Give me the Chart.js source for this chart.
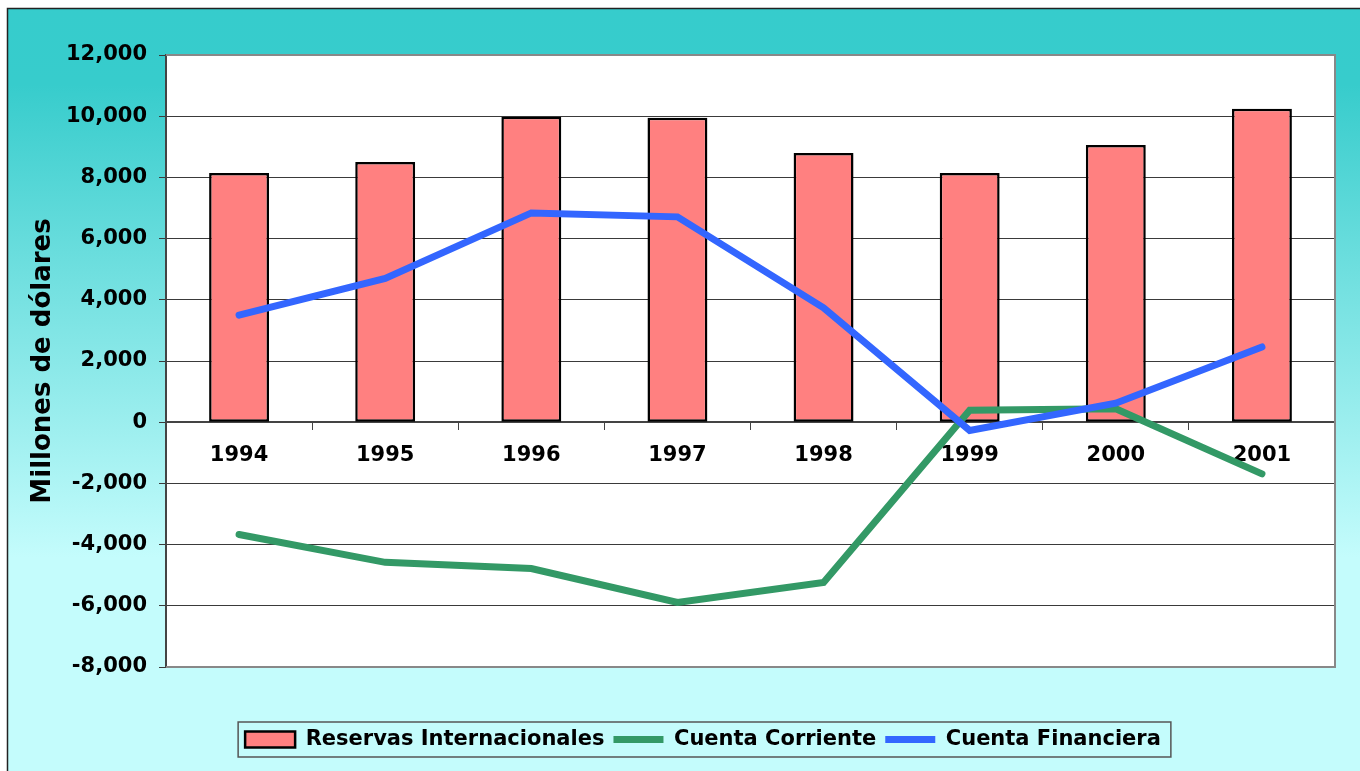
<!DOCTYPE html>
<html>
<head>
<meta charset="utf-8">
<script src="https://cdn.jsdelivr.net/npm/chart.js@4.4.1/dist/chart.umd.min.js"></script>
<style>
  html, body { margin: 0; padding: 0; background: #fff; }
  #wrap { width: 1360px; height: 771px; }
</style>
</head>
<body>
<div id="wrap"><canvas id="mainChart" width="1360" height="771"></canvas></div>
<script>
// datos (millones de dólares)
const years = ['1994', '1995', '1996', '1997', '1998', '1999', '2000', '2001'];
const reservas = [8140, 8500, 9980, 9950, 8800, 8140, 9060, 10240];
const corriente = [-3670, -4580, -4780, -5890, -5240, 390, 440, -1690];
const financiera = [3500, 4700, 6840, 6710, 3740, -270, 620, 2460];
const yMin = -8000, yMax = 12000, yStep = 2000;

Chart.defaults.font.family = "'DejaVu Sans', Verdana, sans-serif";
Chart.defaults.font.weight = 'bold';
Chart.defaults.color = '#000';

// fondo degradado + area de trazado blanca + marco de la leyenda
const frame = {
    id: 'frame',
    beforeDraw(chart) {
        const { ctx, width, height, chartArea: a } = chart;
        ctx.save();
        ctx.fillStyle = '#fff';
        ctx.fillRect(0, 0, width, height);
        const g = ctx.createLinearGradient(0, 8, 0, height);
        g.addColorStop(0, '#36cccc');
        g.addColorStop(0.1, '#37cccc');
        g.addColorStop(0.72, '#c4fcfc');
        g.addColorStop(1, '#c4fcfc');
        ctx.fillStyle = g;
        ctx.fillRect(7, 8, width - 7, height - 8);
        ctx.strokeStyle = '#222';
        ctx.lineWidth = 1.5;
        ctx.beginPath();
        ctx.moveTo(7.5, height);
        ctx.lineTo(7.5, 8.5);
        ctx.lineTo(width, 8.5);
        ctx.stroke();
        ctx.fillStyle = '#fff';
        ctx.fillRect(a.left, a.top, a.right - a.left, a.bottom - a.top);
        ctx.restore();
    },
    afterLayout(chart) {
        const lg = chart.legend;
        const dx = 703 - (lg.left + lg.right) / 2;
        const dy = 740 - (lg.top + lg.bottom) / 2;
        lg.left += dx; lg.right += dx;
        lg.top += dy; lg.bottom += dy;
    },
    beforeDatasetsDraw(chart) {
        const { ctx, chartArea: a } = chart;
        ctx.save();
        ctx.strokeStyle = '#888';
        ctx.lineWidth = 2;
        ctx.beginPath();
        ctx.moveTo(a.left, a.top);
        ctx.lineTo(a.right, a.top);
        ctx.lineTo(a.right, a.bottom);
        ctx.lineTo(a.left, a.bottom);
        ctx.stroke();
        ctx.restore();
    },
    afterDraw(chart) {
        const boxes = chart.legend.legendHitBoxes;
        if (!boxes || !boxes.length) return;
        const { ctx } = chart;
        const l = Math.min(...boxes.map(b => b.left)) - 7;
        const r = Math.max(...boxes.map(b => b.left + b.width)) + 10;
        const t = Math.min(...boxes.map(b => b.top)) - 7;
        const bt = Math.max(...boxes.map(b => b.top + b.height)) + 7;
        ctx.save();
        ctx.globalCompositeOperation = 'destination-over';
        ctx.fillStyle = '#fff';
        ctx.fillRect(l, t, r - l, bt - t);
        ctx.restore();
        ctx.save();
        ctx.strokeStyle = '#555';
        ctx.lineWidth = 1.5;
        ctx.strokeRect(l, t, r - l, bt - t);
        ctx.restore();
    }
};

new Chart(document.getElementById('mainChart'), {
    data: {
        labels: years,
        datasets: [
            {
                type: 'bar',
                label: 'Reservas Internacionales',
                data: reservas,
                backgroundColor: '#ff8080',
                borderColor: '#000',
                borderWidth: 2.5,
                borderSkipped: false,
                barPercentage: 0.41,
                categoryPercentage: 1,
                pointStyle: 'rect',
                order: 3
            },
            {
                type: 'line',
                label: 'Cuenta Corriente',
                data: corriente,
                borderColor: '#339966',
                backgroundColor: '#339966',
                borderWidth: 7,
                borderCapStyle: 'round',
                pointRadius: 0,
                pointStyle: 'line',
                fill: false,
                tension: 0,
                order: 2
            },
            {
                type: 'line',
                label: 'Cuenta Financiera',
                data: financiera,
                borderColor: '#3366ff',
                backgroundColor: '#3366ff',
                borderWidth: 7,
                borderCapStyle: 'round',
                pointRadius: 0,
                pointStyle: 'line',
                fill: false,
                tension: 0,
                order: 1
            }
        ]
    },
    options: {
        responsive: false,
        animation: false,
        layout: { padding: { top: 55, left: 6, right: 25, bottom: 64 } },
        plugins: {
            tooltip: { enabled: false },
            legend: {
                position: 'bottom',
                labels: {
                    usePointStyle: true,
                    pointStyleWidth: 50,
                    boxHeight: 16,
                    padding: 9,
                    color: '#000',
                    font: { size: 21, weight: 'bold' },
                    sort: (a, b) => a.datasetIndex - b.datasetIndex
                }
            }
        },
        scales: {
            x: {
                position: { y: 0 },
                offset: true,
                grid: { offset: true, drawOnChartArea: false, drawTicks: true, tickLength: 7, color: '#444' },
                border: { color: '#444', width: 2 },
                ticks: { padding: 14, font: { size: 21, weight: 'bold' }, maxRotation: 0 }
            },
            y: {
                min: yMin,
                max: yMax,
                afterFit(s) { s.width = 160; },
                ticks: { stepSize: yStep, padding: 12, font: { size: 21, weight: 'bold' } },
                grid: { color: '#3a3a3a', tickLength: 7 },
                border: { color: '#444', width: 2 },
                title: {
                    display: true,
                    text: 'Millones de dólares',
                    font: { size: 26, weight: 'bold' },
                    padding: { top: 22 }
                }
            }
        }
    },
    plugins: [frame]
});
</script>
</body>
</html>
